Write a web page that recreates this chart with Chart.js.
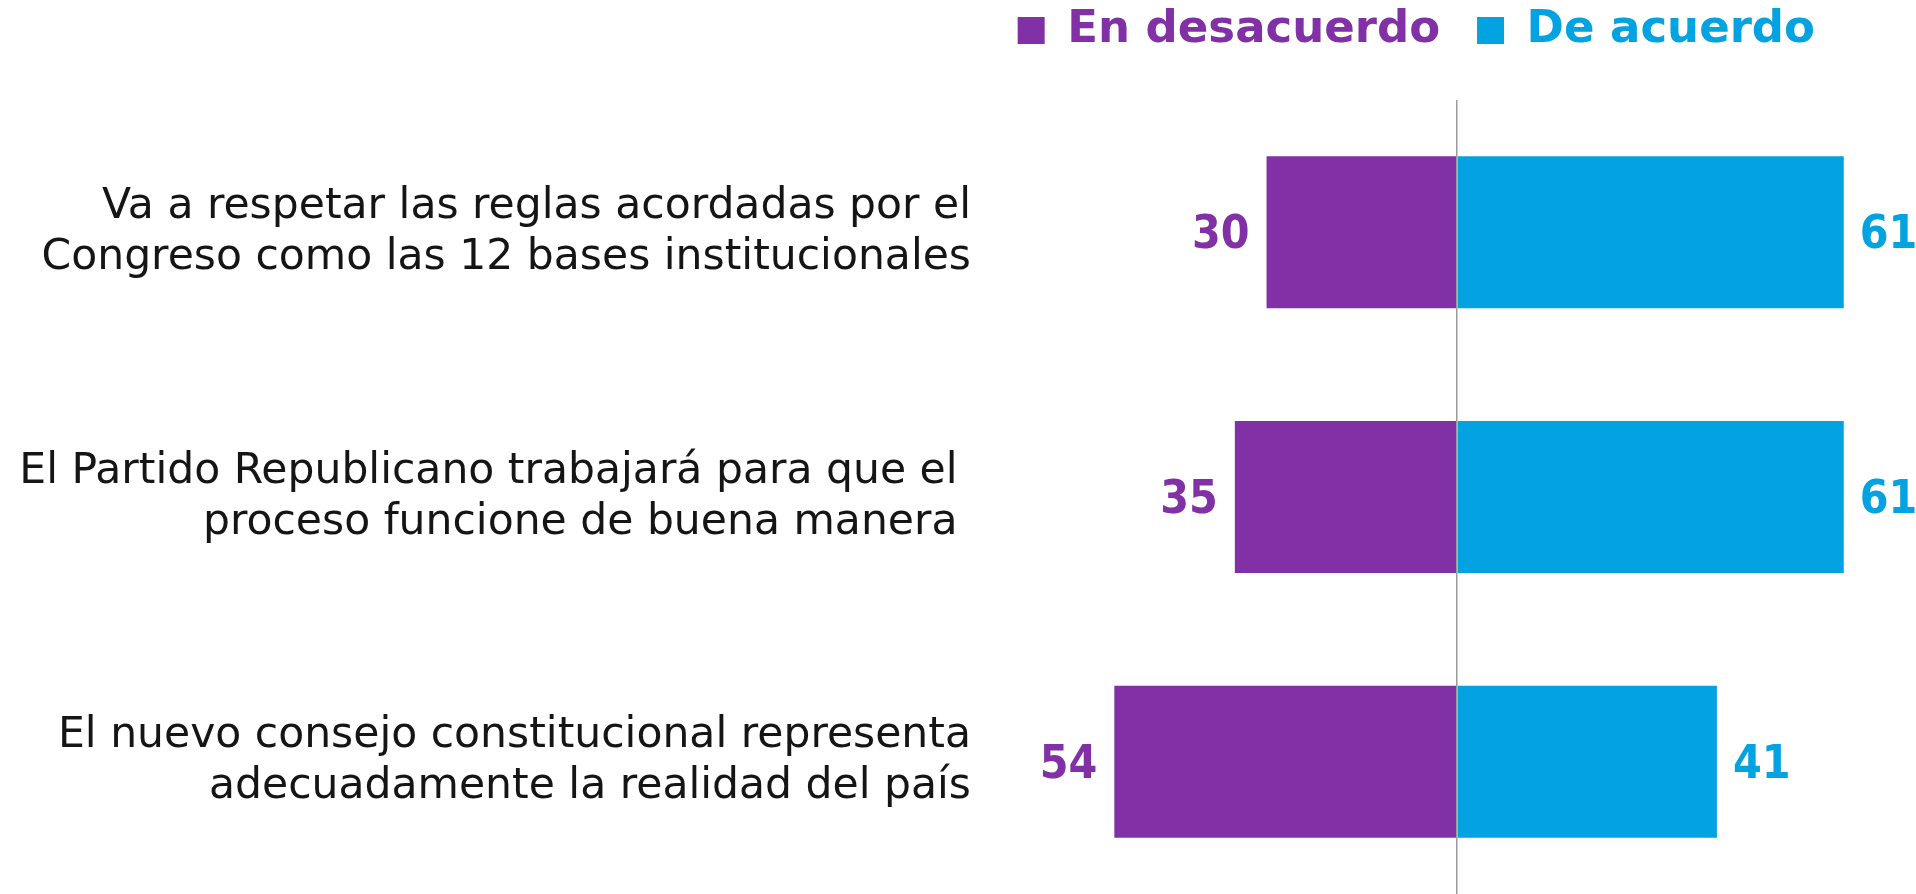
<!DOCTYPE html>
<html>
<head>
<meta charset="utf-8">
<script src="https://cdn.jsdelivr.net/npm/chart.js@4.4.1/dist/chart.umd.min.js"></script>
<style>
  html, body { margin: 0; padding: 0; background: #fff; }
  #wrap { width: 1916px; height: 894px; position: relative; }
</style>
</head>
<body>
<div id="wrap"><canvas id="c"></canvas></div>
<script>
// Etiquetas de las filas (multilínea), de arriba hacia abajo
const categories = [
  ["Va a respetar las reglas acordadas por el", "Congreso como las 12 bases institucionales"],
  ["El Partido Republicano trabajará para que el ", "proceso funcione de buena manera "],
  ["El nuevo consejo constitucional representa", "adecuadamente la realidad del país"],
];
const seriesNames = ["En desacuerdo", "De acuerdo"];
const desacuerdo = [30, 35, 54];
const acuerdo = [61, 61, 41];

const PURPLE = "#8230a5";
const BLUE = "#03a2e0";
const FONT = "'DejaVu Sans', 'Open Sans', sans-serif";
const NUM_FONT = "'DejaVu Sans Condensed', 'DejaVu Sans', sans-serif";

// números al lado de cada barra
const valueLabels = {
  id: "valueLabels",
  afterDatasetsDraw(chart) {
    const ctx = chart.ctx;
    ctx.save();
    ctx.font = "bold 46px " + NUM_FONT;
    ctx.textBaseline = "middle";
    chart.data.datasets.forEach((ds, i) => {
      const meta = chart.getDatasetMeta(i);
      meta.data.forEach((bar, j) => {
        const v = ds.data[j];
        ctx.fillStyle = ds.backgroundColor;
        if (v < 0) {
          ctx.textAlign = "right";
          ctx.fillText(String(Math.abs(v)), bar.x - 17, bar.y + 4);
        } else {
          ctx.textAlign = "left";
          ctx.fillText(String(v), bar.x + 16, bar.y + 4);
        }
      });
    });
    ctx.restore();
  },
};

new Chart(document.getElementById("c"), {
  type: "bar",
  data: {
    labels: categories,
    datasets: [
      {
        label: seriesNames[0],
        data: desacuerdo.map(v => -v),
        backgroundColor: PURPLE,
        categoryPercentage: 1,
        barPercentage: 0.574,
      },
      {
        label: seriesNames[1],
        data: acuerdo,
        backgroundColor: BLUE,
        categoryPercentage: 1,
        barPercentage: 0.574,
      },
    ],
  },
  options: {
    indexAxis: "y",
    responsive: true,
    maintainAspectRatio: false,
    animation: false,
    layout: { padding: { top: -29, right: 64, bottom: 0, left: 0 } },
    plugins: {
      tooltip: { enabled: false },
      legend: {
        position: "top",
        align: "end",
        labels: {
          boxWidth: 27,
          boxHeight: 27,
          padding: 37,
          font: { family: FONT, size: 45, weight: "bold" },
          generateLabels: (chart) => chart.data.datasets.map((ds, i) => ({
            text: ds.label,
            fillStyle: ds.backgroundColor,
            strokeStyle: ds.backgroundColor,
            fontColor: ds.backgroundColor,
            lineWidth: 0,
            datasetIndex: i,
          })),
        },
      },
    },
    scales: {
      x: {
        position: "top",
        stacked: true,
        min: -73.6,
        max: 62.3,
        afterBuildTicks: (s) => { s.ticks = [{ value: 0 }]; },
        afterFit: (s) => { s.height = 37; },
        ticks: { display: false },
        border: { display: false },
        grid: { color: "#9b9b9b", lineWidth: 1.5, drawTicks: false, z: 1 },
      },
      y: {
        stacked: true,
        afterFit: (s) => {
          s.width = 990;
          s.paddingTop = 0;
          s.paddingBottom = 0;
        },
        ticks: {
          padding: 19,
          color: "#151515",
          font: { family: FONT, size: 42.5, lineHeight: 1.2 },
        },
        border: { display: false },
        grid: { display: false, drawTicks: false },
      },
    },
  },
  plugins: [valueLabels],
});
</script>
</body>
</html>
